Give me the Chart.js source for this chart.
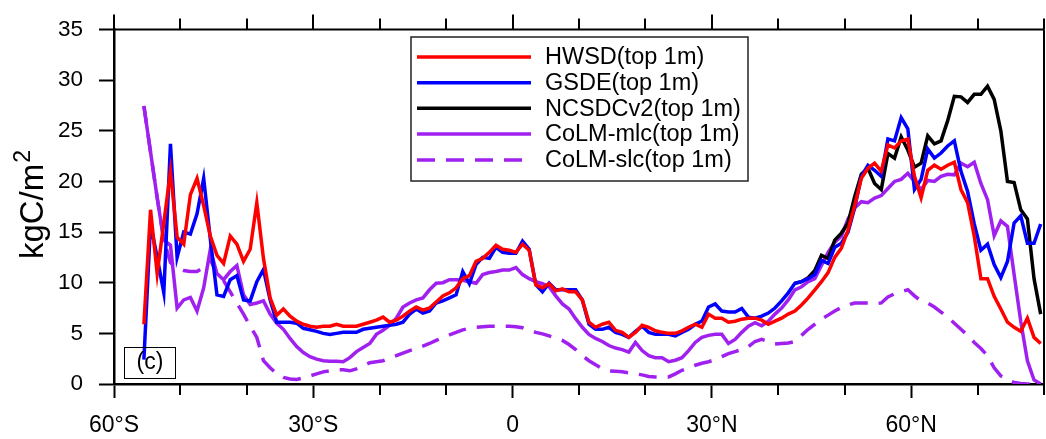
<!DOCTYPE html>
<html>
<head>
<meta charset="utf-8">
<script src="https://cdn.jsdelivr.net/npm/chart.js@4.4.1/dist/chart.umd.min.js"></script>
<style>
  html, body { margin: 0; padding: 0; background: #fff; }
  canvas { display: block; }
</style>
</head>
<body>
<canvas id="c" width="1046" height="439"></canvas>
<script>
// Latitude grid (1 degree bands, centres from 55.5S to 79.5N)
const lats = Array.from({ length: 136 }, (_, i) => -55.5 + i);

const seriesNames = ['HWSD(top 1m)', 'GSDE(top 1m)', 'NCSDCv2(top 1m)', 'CoLM-mlc(top 1m)', 'CoLM-slc(top 1m)'];

const hwsd = [
  5.9, 17.2, 10.9, 15.9, 21.0, 14.5, 13.8, 18.7, 20.3, 17.6,
  14.6, 12.7, 11.9, 14.6, 13.8, 12.1, 13.3, 17.9, 12.4, 8.5,
  6.8, 7.4, 6.7, 6.2, 5.9, 5.7, 5.6, 5.7, 5.7, 5.9,
  5.7, 5.7, 5.7, 5.9, 6.1, 6.3, 6.6, 6.1, 6.3, 6.7,
  7.2, 7.6, 7.3, 7.5, 8.1, 8.7, 9.0, 9.5, 10.4, 10.7,
  12.1, 12.4, 13.0, 13.7, 13.3, 13.2, 13.0, 13.8, 13.2, 9.8,
  9.5, 9.9, 9.2, 9.4, 9.1, 9.1, 8.3, 6.1, 5.6, 5.9,
  6.1, 5.3, 5.1, 4.6, 5.1, 5.8, 5.6, 5.25, 5.1, 5.0,
  5.0, 5.25, 5.6, 5.9, 5.6, 6.9, 6.5, 6.5, 6.1, 6.2,
  6.4, 6.5, 6.5, 6.3, 5.9, 6.2, 6.5, 6.9, 7.2, 7.8,
  8.5, 9.3, 10.1, 11.0, 12.5, 13.4, 15.2, 17.6, 20.3, 21.3,
  21.8, 21.0, 23.6, 23.3, 24.0, 24.2, 20.5, 18.4, 21.1, 21.6,
  21.2, 21.6, 21.9, 19.2, 17.9, 14.6, 10.4, 10.4, 8.65, 7.4,
  6.1, 5.6, 5.2, 6.5, 4.6, 4.0
];

const gsde = [
  2.4, 15.8, 12.5, 9.0, 23.7, 12.5, 15.0, 14.8, 16.8, 20.3,
  14.3, 8.8, 8.65, 10.3, 10.7, 8.3, 8.2, 10.1, 11.3, 8.3,
  6.1, 6.1, 6.1, 6.0, 5.5, 5.35, 5.2, 5.0, 4.9, 5.0,
  5.1, 5.1, 5.1, 5.4, 5.5, 5.6, 5.7, 5.8, 5.9, 6.1,
  6.9, 7.4, 7.0, 7.2, 8.0, 8.2, 8.5, 8.8, 11.1, 9.9,
  11.8, 12.5, 12.4, 13.5, 13.0, 12.9, 12.9, 14.1, 13.3, 9.8,
  9.1, 9.95, 9.3, 9.3, 9.3, 9.3, 8.3, 5.9, 5.4, 5.4,
  5.6, 5.1, 4.9, 4.6, 5.2, 5.7, 5.1, 4.9, 4.9, 4.9,
  4.75, 5.1, 5.4, 5.9, 6.2, 7.6, 7.9, 7.2, 7.1, 7.1,
  7.45, 6.6, 6.5, 6.7, 7.0, 7.5, 8.2, 9.0, 9.95, 10.1,
  10.4, 10.8, 12.2, 11.9, 13.5, 13.9, 15.0, 17.4, 20.5, 21.6,
  21.1, 20.5, 24.2, 24.0, 26.3, 25.2, 19.2, 20.2, 23.2, 22.3,
  22.8, 23.5, 24.0, 21.0, 19.0, 15.8, 13.2, 13.8, 11.8, 10.5,
  12.1, 15.9, 16.6, 13.9, 13.9, 15.8
];

// NCSDCv2 only covers the northern high latitudes
const ncsdc = [
  null, null, null, null, null, null, null, null, null, null,
  null, null, null, null, null, null, null, null, null, null,
  null, null, null, null, null, null, null, null, null, null,
  null, null, null, null, null, null, null, null, null, null,
  null, null, null, null, null, null, null, null, null, null,
  null, null, null, null, null, null, null, null, null, null,
  null, null, null, null, null, null, null, null, null, null,
  null, null, null, null, null, null, null, null, null, null,
  null, null, null, null, null, null, null, null, null, null,
  null, null, null, null, null, null, null, null, 9.95, 10.1,
  10.5, 11.2, 12.7, 12.4, 14.2, 14.9, 15.9, 18.5, 20.7, 21.3,
  19.8, 19.2, 22.75, 22.3, 24.4, 23.1, 21.4, 21.8, 24.5, 23.7,
  24.0, 26.0, 28.4, 28.35, 27.8, 28.6, 28.6, 29.4, 28.1, 25.0,
  20.0, 19.9, 17.2, 16.3, 10.4, 6.9
];

const colmMlc = [
  27.45, 22.9, 18.4, 14.2, 13.7, 7.5, 8.3, 8.55, 7.2, 9.5,
  13.3, 10.9, 10.3, 11.1, 11.7, 8.8, 7.85, 8.0, 8.2, 6.9,
  6.0, 5.4, 4.5, 3.7, 3.1, 2.7, 2.45, 2.3, 2.25, 2.25,
  2.2, 2.6, 3.2, 3.6, 4.0, 4.9, 5.3, 5.8, 6.5, 7.6,
  8.0, 8.3, 8.5, 9.3, 9.95, 10.0, 10.3, 10.3, 10.25, 10.1,
  9.95, 10.8, 11.0, 11.1, 11.25, 11.25, 11.5, 10.8, 10.4, 10.1,
  9.9, 9.6, 8.7, 7.9, 7.4, 6.45, 5.6, 4.9, 4.5, 4.2,
  3.8, 3.55, 3.4, 3.15, 4.1, 3.3, 2.8, 2.6, 2.6, 2.2,
  2.35, 2.6, 3.3, 4.1, 4.6, 4.8, 4.9, 4.9, 4.0, 4.4,
  5.1, 5.7, 6.05, 5.75, 6.2, 6.9, 7.5, 8.3, 9.3, 9.6,
  10.1, 10.4, 11.7, 13.0, 14.0, 14.6, 16.3, 17.4, 18.0, 17.9,
  18.35, 18.6, 19.3, 20.0, 20.2, 20.8, 20.0, 19.2, 20.1, 20.0,
  20.5, 20.7, 20.65, 21.8, 21.45, 21.9, 19.8, 18.2, 14.65, 16.1,
  15.55, 10.8, 6.2, 2.3, 0.4, 0.0
];

const colmSlc = [
  27.45, 22.9, 18.4, 14.2, 12.0, 11.4, 11.2, 11.1, 11.1, 11.5,
  12.3, 10.8, 10.2, 9.1, 8.0, 6.9, 5.7, 4.6, 2.3, 1.6,
  1.0, 0.65, 0.5, 0.45, 0.6, 0.8, 1.0, 1.2, 1.3, 1.4,
  1.4, 1.3, 1.5, 1.8, 2.1, 2.2, 2.3, 2.55, 2.8, 3.05,
  3.3, 3.5, 3.75, 4.0, 4.3, 4.6, 4.85, 5.1, 5.35, 5.5,
  5.6, 5.65, 5.7, 5.7, 5.7, 5.7, 5.65, 5.55, 5.3, 5.1,
  4.95, 4.75, 4.55, 4.3, 3.9, 3.4, 2.8, 2.3, 1.9, 1.5,
  1.3, 1.25, 1.2, 1.1, 1.0, 0.9, 0.75, 0.7, 0.7, 0.7,
  1.0, 1.35, 1.6, 1.85, 2.05, 2.2, 2.4, 2.7, 3.0, 3.2,
  3.4, 3.7, 4.2, 4.4, 4.2, 3.95, 4.0, 4.05, 4.2, 4.8,
  5.4, 5.9, 6.4, 6.8, 7.2, 7.55, 7.8, 8.0, 8.0, 8.0,
  7.9, 8.0, 8.6, 8.9, 9.1, 9.3, 8.7, 8.2, 8.0, 7.6,
  7.1, 6.6, 6.0, 5.4, 4.8, 4.1, 3.5, 2.8, 1.6, 0.8,
  0.4, 0.15, 0.05, 0, 0, 0
];

// Axis ticks
const xMajorTicks = [-60, -30, 0, 30, 60];
const xMinorTicks = [-50, -40, -20, -10, 10, 20, 40, 50, 70, 80];
const yTicks = [0, 5, 10, 15, 20, 25, 30, 35];
const panelLabel = '(c)';

const FONT = "'Liberation Sans', Arial, Helvetica, sans-serif";

function toPoints(arr) {
  return lats.map((x, i) => ({ x: x, y: arr[i] }));
}

function fmtLat(v) {
  if (v < 0) return (-v) + '°S';
  if (v > 0) return v + '°N';
  return '0';
}

const decor = {
  id: 'decor',
  afterDraw(chart) {
    const ctx = chart.ctx;
    const a = chart.chartArea;
    const xs = chart.scales.x;
    ctx.save();
    ctx.strokeStyle = '#000';
    ctx.lineWidth = 2;
    ctx.lineCap = 'butt';
    // top and right frame
    ctx.beginPath();
    ctx.moveTo(a.left - 1, a.top);
    ctx.lineTo(a.right, a.top);
    ctx.moveTo(a.right, a.top);
    ctx.lineTo(a.right, a.bottom);
    ctx.stroke();
    // minor ticks bottom & top, major ticks top (outward)
    ctx.beginPath();
    for (const v of xMinorTicks) {
      const px = Math.round(xs.getPixelForValue(v));
      ctx.moveTo(px, a.bottom); ctx.lineTo(px, a.bottom + 11);
      ctx.moveTo(px, a.top); ctx.lineTo(px, a.top - 11);
    }
    for (const v of xMajorTicks) {
      const px = Math.round(xs.getPixelForValue(v));
      ctx.moveTo(px, a.top); ctx.lineTo(px, a.top - 15);
    }
    ctx.stroke();

    // Y-axis title with superscript
    ctx.save();
    ctx.translate(43, 205);
    ctx.rotate(-Math.PI / 2);
    ctx.fillStyle = '#000';
    ctx.textBaseline = 'alphabetic';
    const main = 'kgC/m';
    ctx.font = '33px ' + FONT;
    const wMain = ctx.measureText(main).width;
    ctx.font = '23px ' + FONT;
    const wSup = ctx.measureText('2').width;
    const total = wMain + wSup;
    ctx.font = '33px ' + FONT;
    ctx.textAlign = 'left';
    ctx.fillText(main, -total / 2, 0);
    ctx.font = '23px ' + FONT;
    ctx.fillText('2', -total / 2 + wMain + 1, -13);
    ctx.restore();

    // Legend box
    const lx = 411, ly = 37, lw = 337, lh = 144;
    ctx.lineWidth = 1.5;
    ctx.strokeStyle = '#222';
    ctx.strokeRect(lx, ly, lw, lh);
    const rows = [57, 82.7, 108.3, 134, 160];
    chart.data.datasets.forEach((ds, i) => {
      const yy = rows[i];
      ctx.save();
      ctx.strokeStyle = ds.borderColor;
      ctx.lineWidth = 3.5;
      ctx.setLineDash(ds.borderDash || []);
      ctx.beginPath();
      ctx.moveTo(417, yy);
      ctx.lineTo(531, yy);
      ctx.stroke();
      ctx.restore();
      ctx.fillStyle = '#000';
      ctx.font = '23.5px ' + FONT;
      ctx.textAlign = 'left';
      ctx.textBaseline = 'middle';
      ctx.fillText(ds.label, 545, yy + 1);
    });

    // Panel label box
    ctx.lineWidth = 1;
    ctx.strokeStyle = '#000';
    ctx.strokeRect(124.5, 347.5, 51, 31);
    ctx.fillStyle = '#000';
    ctx.font = '23px ' + FONT;
    ctx.textAlign = 'center';
    ctx.textBaseline = 'middle';
    ctx.fillText(panelLabel, 150, 363);
    ctx.restore();
  }
};

const colors = ['#ff0000', '#0000ff', '#000000', '#a020f0', '#a020f0'];
const seriesData = [hwsd, gsde, ncsdc, colmMlc, colmSlc];

const datasets = seriesData.map((arr, i) => ({
  label: seriesNames[i],
  data: toPoints(arr),
  borderColor: colors[i],
  backgroundColor: colors[i],
  borderWidth: 3.5,
  borderDash: i === 4 ? [18, 11] : [],
  pointRadius: 0,
  tension: 0,
  fill: false,
  spanGaps: false
}));

new Chart(document.getElementById('c'), {
  type: 'line',
  data: { datasets: datasets },
  options: {
    responsive: false,
    animation: false,
    devicePixelRatio: 1,
    layout: { padding: { top: 24, right: 2, left: 0, bottom: 0 } },
    plugins: {
      legend: { display: false },
      tooltip: { enabled: false },
      title: { display: false }
    },
    scales: {
      x: {
        type: 'linear',
        min: -60,
        max: 80,
        afterFit(scale) { scale.height = 55; },
        afterBuildTicks(scale) { scale.ticks = xMajorTicks.map(v => ({ value: v })); },
        ticks: {
          includeBounds: false,
          autoSkip: false,
          maxRotation: 0,
          padding: 14,
          color: '#000',
          font: { family: FONT, size: 23 },
          callback: (v) => fmtLat(v)
        },
        grid: {
          drawOnChartArea: false,
          drawTicks: true,
          tickLength: 14,
          tickWidth: 2,
          tickColor: '#000'
        },
        border: { display: true, color: '#000', width: 2.5 }
      },
      y: {
        min: 0,
        max: 35,
        afterFit(scale) { scale.width = 114; },
        afterBuildTicks(scale) { scale.ticks = yTicks.map(v => ({ value: v })); },
        ticks: {
          padding: 16,
          color: '#000',
          font: { family: FONT, size: 22.5 }
        },
        grid: {
          drawOnChartArea: false,
          drawTicks: true,
          tickLength: 15,
          tickWidth: 2,
          tickColor: '#000'
        },
        border: { display: true, color: '#000', width: 2.5 }
      }
    }
  },
  plugins: [decor]
});
</script>
</body>
</html>
